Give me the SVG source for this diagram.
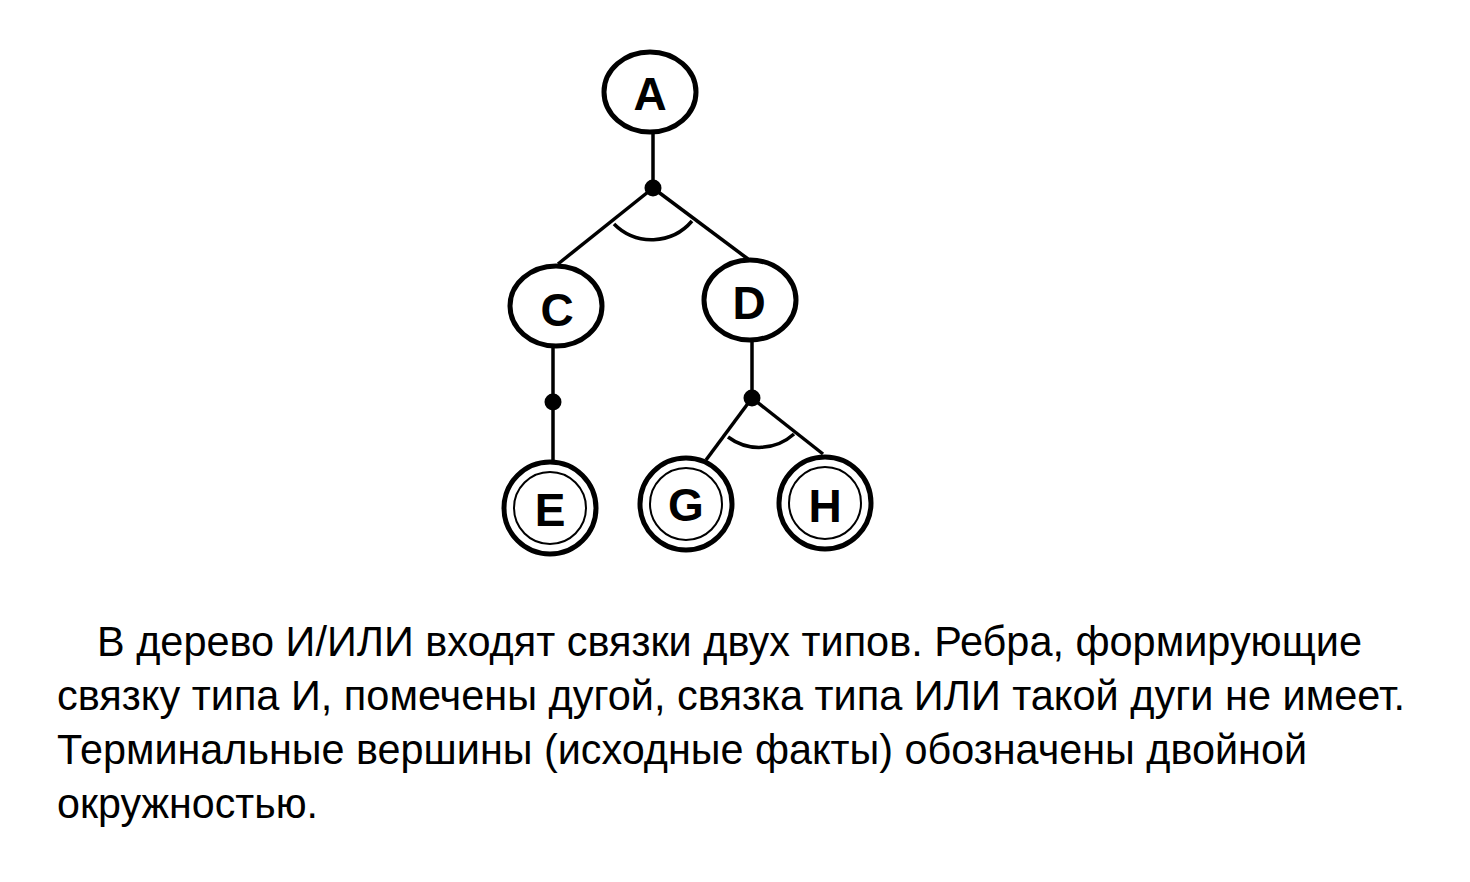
<svg xmlns="http://www.w3.org/2000/svg" width="1470" height="882" viewBox="0 0 1470 882">
<style>
.n{fill:#fff;stroke:#000;stroke-width:5}
.in{fill:none;stroke:#000;stroke-width:2}
.lbl{font-family:"Liberation Sans",Arial,sans-serif;font-weight:bold;font-size:46px;text-anchor:middle;fill:#000}
.e{fill:none;stroke:#000;stroke-width:3.5}
.dot{fill:#000}
.t{font-family:"Liberation Sans",Arial,sans-serif;font-size:43px;fill:#000}
</style>
<rect width="1470" height="882" fill="#fff"/>
<g id="connectors">
<line class="e" x1="653" y1="132" x2="653" y2="188"/>
<line class="e" x1="653" y1="188" x2="558" y2="264"/>
<line class="e" x1="653" y1="188" x2="748" y2="259"/>
<path class="e" d="M614,224 A53,53 0 0 0 692,221" stroke-width="3"/>
<circle class="dot" cx="653" cy="188" r="8.5"/>
<line class="e" x1="553" y1="347" x2="553" y2="461"/>
<circle class="dot" cx="553" cy="402" r="8.5"/>
<line class="e" x1="752" y1="341" x2="752" y2="398"/>
<line class="e" x1="752" y1="398" x2="706" y2="460"/>
<line class="e" x1="752" y1="398" x2="823" y2="454"/>
<path class="e" d="M728,437 A52,52 0 0 0 794,434" stroke-width="3"/>
<circle class="dot" cx="752" cy="398" r="8.5"/>
</g>
<g id="node-A"><ellipse class="n" cx="650" cy="92" rx="46" ry="40"/><text class="lbl" x="650" y="110">A</text></g>
<g id="node-C"><ellipse class="n" cx="556" cy="306" rx="46" ry="40"/><text class="lbl" x="557" y="326">C</text></g>
<g id="node-D"><ellipse class="n" cx="750" cy="300" rx="46" ry="40"/><text class="lbl" x="749" y="319">D</text></g>
<g id="node-E"><circle class="n" cx="550" cy="508" r="46"/><circle class="in" cx="550" cy="508" r="36"/><text class="lbl" x="550" y="526">E</text></g>
<g id="node-G"><circle class="n" cx="686" cy="504" r="46"/><circle class="in" cx="686" cy="504" r="36"/><text class="lbl" x="686" y="521">G</text></g>
<g id="node-H"><circle class="n" cx="825" cy="503" r="46"/><circle class="in" cx="825" cy="503" r="36"/><text class="lbl" x="825" y="522">H</text></g>
<g id="caption">
<text class="t" x="97" y="656" textLength="1265" lengthAdjust="spacingAndGlyphs">В дерево И/ИЛИ входят связки двух типов. Ребра, формирующие</text>
<text class="t" x="57" y="710" textLength="1348" lengthAdjust="spacingAndGlyphs">связку типа И, помечены дугой, связка типа ИЛИ такой дуги не имеет.</text>
<text class="t" x="57" y="764" textLength="1250" lengthAdjust="spacingAndGlyphs">Терминальные вершины (исходные факты) обозначены двойной</text>
<text class="t" x="57" y="818" textLength="261" lengthAdjust="spacingAndGlyphs">окружностью.</text>
</g>
</svg>
